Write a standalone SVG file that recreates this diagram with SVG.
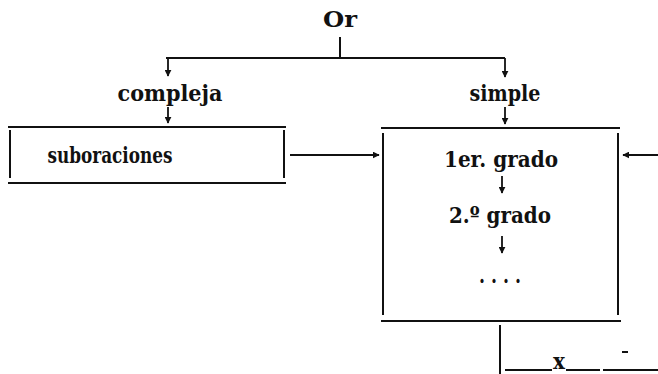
<svg xmlns="http://www.w3.org/2000/svg" width="658" height="374" viewBox="0 0 658 374">
<style>
.t{font-family:"DejaVu Serif","Liberation Serif",serif;font-weight:bold;font-size:22px;fill:#111;text-anchor:middle}
.l{stroke:#111;stroke-width:2;fill:none}
.a{stroke:#111;stroke-width:1.8;fill:none;marker-end:url(#ah)}
</style>
<defs>
<marker id="ah" viewBox="0 0 10 10" refX="9" refY="5" markerWidth="7" markerHeight="7" markerUnits="userSpaceOnUse" orient="auto"><path d="M0,0 L10,5 L0,10 Z" fill="#111"/></marker>
</defs>
<rect width="658" height="374" fill="#fff"/>
<g id="or"><text class="t" x="340" y="27" textLength="34" lengthAdjust="spacingAndGlyphs">Or</text></g>
<g id="compleja"><text class="t" x="170" y="101" textLength="105" lengthAdjust="spacingAndGlyphs">compleja</text></g>
<g id="simple"><text class="t" x="505" y="101" textLength="71" lengthAdjust="spacingAndGlyphs">simple</text></g>
<g id="suboraciones">
<path class="l" d="M8,127 H286 M8,183 H286 M10,130 V178 M284,130 V178"/>
<text class="t" x="110" y="163" textLength="125" lengthAdjust="spacingAndGlyphs">suboraciones</text>
</g>
<g id="grados">
<path class="l" d="M381,128 H620 M381,321 H621 M383,133 V315 M618,133 V315"/>
<text class="t" x="501" y="167" textLength="114" lengthAdjust="spacingAndGlyphs">1er. grado</text>
<text class="t" x="500" y="223" textLength="102" lengthAdjust="spacingAndGlyphs">2.º grado</text>
<text class="t" x="500" y="283" textLength="42" lengthAdjust="spacingAndGlyphs">. . . .</text>
</g>
<g id="x">
<path class="l" d="M505,370 H552 M566,370 H600 M603,370 H658 M622,352 H628"/>
<text class="t" x="559" y="369" textLength="12" lengthAdjust="spacingAndGlyphs">x</text>
</g>
<g id="connectors">
<path class="l" d="M340,37 V57 M166,58 H505 M500,325 V374"/>
<path class="a" d="M168,58 V76"/>
<path class="a" d="M168,107 V123"/>
<path class="a" d="M505,58 V77"/>
<path class="a" d="M505,107 V124"/>
<path class="a" d="M502,176 V193"/>
<path class="a" d="M502,236 V253"/>
<path class="a" d="M290,155 H379"/>
<path class="a" d="M658,155 H623"/>
</g>
</svg>
